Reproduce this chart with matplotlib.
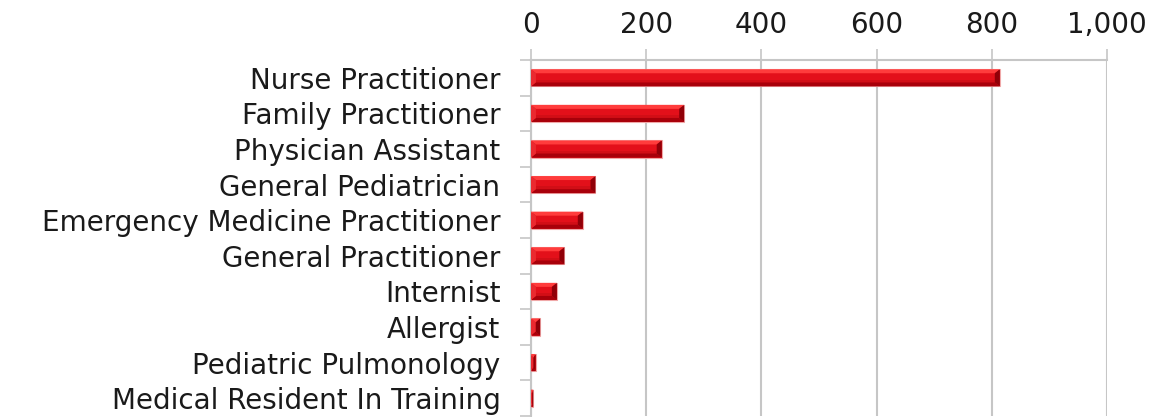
import numpy as np
import matplotlib.pyplot as plt
from matplotlib.patches import Polygon
from matplotlib.ticker import FuncFormatter, FixedLocator

# data
specialties = ['Nurse Practitioner', 'Family Practitioner', 'Physician Assistant',
               'General Pediatrician', 'Emergency Medicine Practitioner',
               'General Practitioner', 'Internist', 'Allergist',
               'Pediatric Pulmonology', 'Medical Resident In Training']
counts = [814, 266, 227, 112, 90, 58, 45, 16, 8, 4]
x_ticks = [0, 200, 400, 600, 800, 1000]

plt.rcParams['font.family'] = ['DejaVu Sans']

fig = plt.figure(figsize=(11.49, 4.17), dpi=100)
ax = fig.add_axes([0.4621, 0.0024, 0.5013, 0.8537])

pos = np.arange(len(specialties))
bar_h = 0.48
ax.barh(pos, counts, height=bar_h, color='#e3101a', edgecolor='#f0a8a8', linewidth=0.8, zorder=3)

ax.set_xlim(0, 1000)
ax.set_ylim(len(specialties) - 0.5, -0.5)

# bevel sizes in pixels -> data units
fig.canvas.draw()
bbox = ax.get_window_extent()
px_x = 1000 / bbox.width
px_y = len(specialties) / bbox.height

for p, v in zip(pos, counts):
    bx = min(5 * px_x, v / 2)
    by = 4 * px_y
    top = p - bar_h / 2
    bot = p + bar_h / 2
    # top highlight
    ax.add_patch(Polygon([(0, top), (v, top), (v - bx, top + by), (bx, top + by)],
                         closed=True, facecolor='#ff3c3c', edgecolor='none', zorder=4))
    # lower slightly darker half
    ax.add_patch(Polygon([(bx, p + 0.05), (v - bx, p + 0.05), (v - bx, bot - by), (bx, bot - by)],
                         closed=True, facecolor='#d20e16', edgecolor='none', zorder=4))
    # bottom shadow
    ax.add_patch(Polygon([(0, bot), (v, bot), (v - bx, bot - by), (bx, bot - by)],
                         closed=True, facecolor='#a8000a', edgecolor='none', zorder=4))
    # right edge
    ax.add_patch(Polygon([(v, top), (v, bot), (v - bx, bot - by), (v - bx, top + by)],
                         closed=True, facecolor='#900008', edgecolor='none', zorder=4))
    # left edge
    ax.add_patch(Polygon([(0, top), (0, bot), (bx, bot - by), (bx, top + by)],
                         closed=True, facecolor='#ea2a30', edgecolor='none', zorder=4))

grid_c = '#c6c6c6'
ax.xaxis.tick_top()
ax.set_xticks(x_ticks)
ax.xaxis.set_major_formatter(FuncFormatter(lambda v, _: f'{int(v):,}'))
ax.tick_params(axis='x', direction='out', length=8, width=1.2, color=grid_c,
               labelsize=20, labelcolor='#1a1a1a', pad=7)
ax.grid(axis='x', color=grid_c, linewidth=1.5, zorder=0)

ax.set_yticks(pos)
ax.set_yticklabels(specialties)
ax.yaxis.set_minor_locator(FixedLocator(np.arange(-0.5, len(specialties), 1.0)))
ax.tick_params(axis='y', which='major', length=0, labelsize=20, labelcolor='#1a1a1a', pad=22)
ax.tick_params(axis='y', which='minor', length=8, width=1.2, color=grid_c)

for side in ['right', 'bottom']:
    ax.spines[side].set_visible(False)
for side in ['top', 'left']:
    ax.spines[side].set_color(grid_c)
    ax.spines[side].set_linewidth(1.5)
ax.set_axisbelow(True)

fig.savefig('out.png', dpi=100)
